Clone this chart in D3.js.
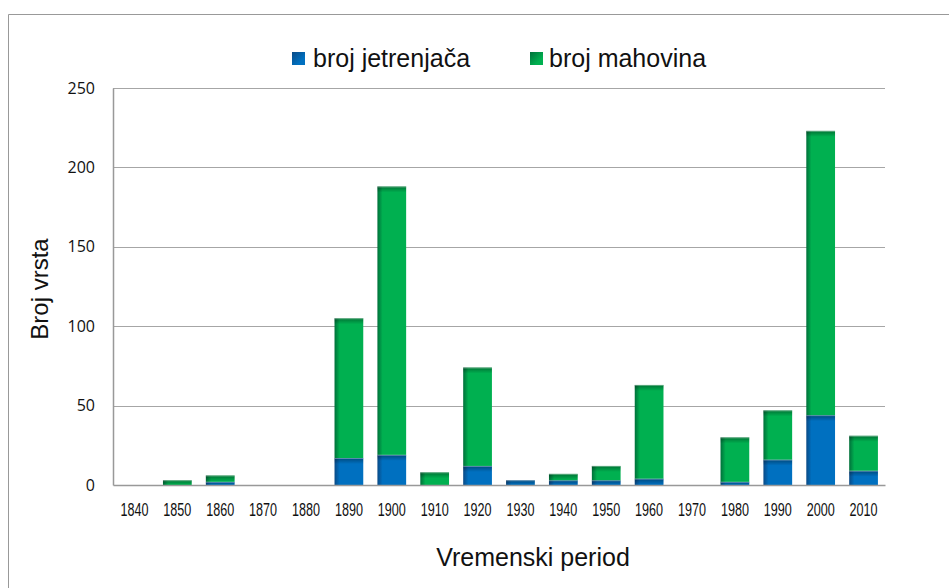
<!DOCTYPE html>
<html>
<head>
<meta charset="utf-8">
<script src="https://cdn.jsdelivr.net/npm/d3@7"></script>
<style>
  html, body { margin: 0; padding: 0; background: #fff; }
  svg { display: block; }
</style>
</head>
<body>
<svg id="chart" width="949" height="588"></svg>
<script>
const categories = ["1840","1850","1860","1870","1880","1890","1900","1910","1920","1930","1940","1950","1960","1970","1980","1990","2000","2010"];
const jetrenjace = [0, 0, 2, 0, 0, 17, 19, 0, 12, 3, 3, 3, 4, 0, 2, 16, 44, 9];
const mahovine   = [0, 3, 4, 0, 0, 88, 169, 8, 62, 0, 4, 9, 59, 0, 28, 31, 179, 22];
const seriesNames = ["broj jetrenjača", "broj mahovina"];
const yTicks = [0, 50, 100, 150, 200, 250];
const yTitle = "Broj vrsta";
const xTitle = "Vremenski period";

const svg = d3.select("#chart");
const margin = { left: 113, right: 64, top: 88, bottom: 103 };
const W = 949, H = 588;

const x = d3.scaleBand().domain(categories)
  .range([margin.left, W - margin.right])
  .paddingInner(0.33).paddingOuter(0.165);
const y = d3.scaleLinear().domain([0, 250]).range([H - margin.bottom, margin.top]);

const colors = [
  { base: "#0070C0", dark: "#0a4a86" },
  { base: "#00B050", dark: "#00703a" }
];

const defs = svg.append("defs");
colors.forEach((c, i) => {
  const g = defs.append("linearGradient").attr("id", "hg" + i)
    .attr("x1", 0).attr("y1", 0).attr("x2", 1).attr("y2", 0);
  g.append("stop").attr("offset", "0%").attr("stop-color", c.dark);
  g.append("stop").attr("offset", "18%").attr("stop-color", c.base);
  g.append("stop").attr("offset", "100%").attr("stop-color", c.base);
  const s = defs.append("linearGradient").attr("id", "sq" + i)
    .attr("x1", 0).attr("y1", 0).attr("x2", 1).attr("y2", 1);
  s.append("stop").attr("offset", "0%").attr("stop-color", c.dark);
  s.append("stop").attr("offset", "70%").attr("stop-color", c.base);
});
const vg = defs.append("linearGradient").attr("id", "topshade")
  .attr("x1", 0).attr("y1", 0).attr("x2", 0).attr("y2", 1);
vg.append("stop").attr("offset", "0%").attr("stop-color", "#000").attr("stop-opacity", 0.35);
vg.append("stop").attr("offset", "100%").attr("stop-color", "#000").attr("stop-opacity", 0);

// outer frame
svg.append("path").attr("d", `M8.5,${H + 2} V14.5 H${W + 2}`)
  .attr("fill", "none").attr("stroke", "#999").attr("stroke-width", 1);

// gridlines
svg.append("g").selectAll("line").data(yTicks.filter(t => t > 0)).join("line")
  .attr("x1", margin.left).attr("x2", W - margin.right)
  .attr("y1", d => Math.round(y(d)) + 0.5).attr("y2", d => Math.round(y(d)) + 0.5)
  .attr("stroke", "#a6a6a6").attr("stroke-width", 1.2);

// y axis
const yAxis = svg.append("g").attr("transform", `translate(${margin.left},0)`)
  .call(d3.axisLeft(y).tickValues(yTicks).tickSize(0).tickPadding(18));
yAxis.select(".domain").attr("stroke", "#999").attr("stroke-width", 1.5);
yAxis.selectAll("text").attr("font-family", "'Open Sans', sans-serif")
  .attr("font-size", 16).attr("fill", "#111");

// stacked data
const stackData = categories.map((c, i) => ({ cat: c, j: jetrenjace[i], m: mahovine[i] }));
const stack = d3.stack().keys(["j", "m"])(stackData);

const bars = svg.append("g");
stack.forEach((layer, li) => {
  const g = bars.append("g");
  layer.forEach(d => {
    const h = y(d[0]) - y(d[1]);
    if (h <= 0) return;
    const bx = x(d.data.cat), bw = x.bandwidth(), by = y(d[1]);
    g.append("rect").attr("x", bx).attr("y", by).attr("width", bw).attr("height", h)
      .attr("fill", `url(#hg${li})`);
    g.append("rect").attr("x", bx).attr("y", by).attr("width", bw).attr("height", Math.min(6, h))
      .attr("fill", "url(#topshade)");
    g.append("line").attr("x1", bx).attr("x2", bx + bw).attr("y1", by + 0.5).attr("y2", by + 0.5)
      .attr("stroke", "rgba(255,255,255,0.35)").attr("stroke-width", 1);
  });
});

// x axis
const xAxis = svg.append("g").attr("transform", `translate(0,${y(0)})`)
  .call(d3.axisBottom(x).tickSize(0).tickPadding(18));
xAxis.select(".domain").attr("stroke", "#999").attr("stroke-width", 1.5);
xAxis.selectAll("text").attr("font-family", "'Liberation Sans', Arial, sans-serif")
  .attr("font-size", 18).attr("fill", "#111").attr("dy", "0.71em")
  .attr("textLength", 28).attr("lengthAdjust", "spacingAndGlyphs");

// titles
svg.append("text").attr("x", 533).attr("y", 566).attr("text-anchor", "middle")
  .attr("font-family", "'Liberation Sans', Arial, sans-serif").attr("font-size", 25).attr("fill", "#111")
  .text(xTitle);
svg.append("text").attr("transform", "translate(48,289) rotate(-90)").attr("text-anchor", "middle")
  .attr("font-family", "'Liberation Sans', Arial, sans-serif").attr("font-size", 24).attr("fill", "#111")
  .text(yTitle);

// legend
const legendPos = [{ sx: 292, tx: 313 }, { sx: 530, tx: 549 }];
seriesNames.forEach((name, i) => {
  svg.append("rect").attr("x", legendPos[i].sx).attr("y", 52).attr("width", 13).attr("height", 13)
    .attr("fill", `url(#sq${i})`);
  svg.append("text").attr("x", legendPos[i].tx).attr("y", 67)
    .attr("font-family", "'Liberation Sans', Arial, sans-serif").attr("font-size", 25).attr("fill", "#111")
    .text(name);
});
</script>
</body>
</html>
